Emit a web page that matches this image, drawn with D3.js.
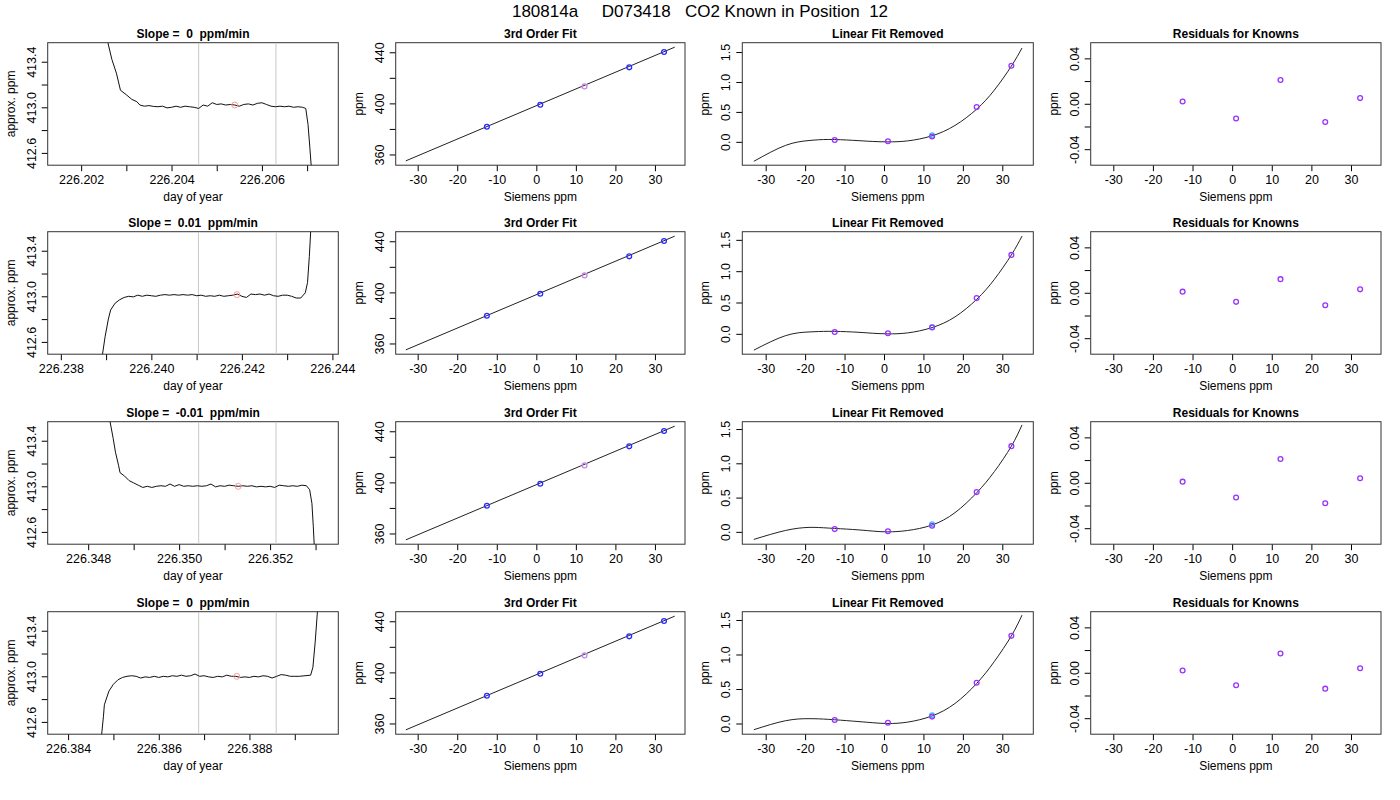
<!DOCTYPE html>
<html>
<head>
<meta charset="utf-8">
<script src="https://cdn.jsdelivr.net/npm/d3@7"></script>
<style>
  body { margin: 0; background: #fff; }
  text { font-family: "Liberation Sans", Arial, sans-serif; white-space: pre; }
</style>
</head>
<body>
<div id="chart"></div>
<script>
// ---- data ----
const mainTitle = "180814a     D073418   CO2 Known in Position  12";
const slopes = ["0", "0.01", "-0.01", "0"];

// day-of-year x ranges and tick positions for the left column
const timeDomains = [[226.20126, 226.20769], [226.23771, 226.24413], [226.34711, 226.3535], [226.38355, 226.38996]];
const timeTicks = [
  [226.202, 226.203, 226.204, 226.205, 226.206, 226.207],
  [226.238, 226.239, 226.240, 226.241, 226.242, 226.243, 226.244],
  [226.348, 226.349, 226.350, 226.351, 226.352, 226.353],
  [226.384, 226.385, 226.386, 226.387, 226.388, 226.389]
];
const grayLines = [[226.2046, 226.20631], [226.24104, 226.24276], [226.35043, 226.35213], [226.38688, 226.38859]];
const redPoint = [[226.2054, 413.02], [226.24189, 413.015], [226.3513, 413.0], [226.38772, 413.0]];

// traces [day, ppm]
const trace1 = [[226.20259,413.57],[226.20268,413.42],[226.20278,413.30],[226.20287,413.15],[226.203,413.11],[226.20312,413.07],[226.20323,413.05],[226.2033,413.02],[226.2034,413.01],[226.2035,413.015],[226.2036,413.008],[226.2037,413.005],[226.2038,413.01],[226.2039,412.995],[226.204,413.0],[226.2041,413.01],[226.2042,413.0],[226.2043,413.01],[226.2044,413.005],[226.2045,413.0],[226.2046,412.99],[226.2047,413.02],[226.2048,413.01],[226.2049,413.04],[226.205,413.025],[226.2051,413.03],[226.2052,413.02],[226.2053,413.025],[226.2054,413.02],[226.2055,413.01],[226.2056,413.025],[226.2057,413.03],[226.2058,413.02],[226.2059,413.035],[226.206,413.04],[226.2061,413.025],[226.2062,413.01],[226.2063,413.005],[226.2064,413.01],[226.2065,413.005],[226.2066,413.01],[226.2067,413.0],[226.2068,413.005],[226.2069,413.0],[226.20697,412.99],[226.20702,412.85],[226.20706,412.65],[226.20709,412.49]];
const trace2 = [[226.23892,412.49],[226.23898,412.65],[226.23905,412.8],[226.2391,412.88],[226.2392,412.94],[226.2393,412.97],[226.2394,412.99],[226.2395,413.0],[226.2396,412.995],[226.2397,413.01],[226.2398,413.0],[226.2399,413.01],[226.24,413.005],[226.2401,413.0],[226.2402,413.01],[226.2403,413.015],[226.2404,413.01],[226.2405,413.015],[226.2406,413.01],[226.2407,413.015],[226.2408,413.01],[226.2409,413.015],[226.241,413.005],[226.2411,413.01],[226.2412,413.0],[226.2413,413.005],[226.2414,413.0],[226.2415,413.01],[226.2416,413.0],[226.2417,413.005],[226.2418,413.01],[226.2419,413.02],[226.242,413.0],[226.2421,412.99],[226.2422,413.02],[226.2423,413.015],[226.2424,413.02],[226.2425,413.01],[226.2426,413.02],[226.2427,413.005],[226.2428,413.0],[226.2429,413.01],[226.243,413.01],[226.2431,413.0],[226.2432,412.985],[226.2433,412.985],[226.2434,413.03],[226.24345,413.12],[226.24349,413.35],[226.24352,413.57]];
const trace3 = [[226.34848,413.57],[226.34855,413.42],[226.3486,413.3],[226.34867,413.18],[226.3487,413.12],[226.3488,413.09],[226.3489,413.05],[226.349,413.03],[226.3491,413.01],[226.3492,412.99],[226.3493,413.0],[226.3494,412.99],[226.3495,413.0],[226.3496,413.005],[226.3497,413.0],[226.3498,413.02],[226.3499,413.0],[226.35,413.015],[226.3501,413.0],[226.3502,413.005],[226.3503,413.0],[226.3504,413.005],[226.3505,413.0],[226.3506,413.005],[226.3507,413.02],[226.3508,412.995],[226.3509,413.005],[226.351,413.0],[226.3511,413.01],[226.3512,413.005],[226.3513,413.0],[226.3514,413.005],[226.3515,413.0],[226.3516,413.005],[226.3517,412.995],[226.3518,413.0],[226.3519,412.995],[226.352,413.0],[226.3521,412.99],[226.3522,413.01],[226.3523,413.005],[226.3524,413.0],[226.3525,413.005],[226.3526,413.0],[226.3527,413.01],[226.3528,413.005],[226.35287,412.97],[226.35292,412.85],[226.35295,412.65],[226.35297,412.49]];
const trace4 = [[226.38474,412.49],[226.38478,412.65],[226.3848,412.75],[226.3849,412.87],[226.385,412.93],[226.3851,412.97],[226.3852,412.99],[226.3853,413.0],[226.3854,413.005],[226.3855,413.0],[226.3856,412.985],[226.3857,412.995],[226.3858,412.99],[226.3859,413.0],[226.386,412.99],[226.3861,413.0],[226.3862,412.995],[226.3863,413.005],[226.3864,413.0],[226.3865,413.01],[226.3866,413.0],[226.3867,413.005],[226.3868,413.02],[226.3869,413.0],[226.387,413.005],[226.3871,412.995],[226.3872,412.99],[226.3873,413.0],[226.3874,412.995],[226.3875,413.01],[226.3876,413.0],[226.3877,413.0],[226.3878,412.99],[226.3879,412.995],[226.388,412.99],[226.3881,413.0],[226.3882,412.995],[226.3883,413.005],[226.3884,413.0],[226.3885,412.985],[226.3886,413.0],[226.3887,413.015],[226.3888,413.01],[226.3889,413.0],[226.389,413.0],[226.3891,413.0],[226.38935,413.01],[226.3894,413.08],[226.38945,413.3],[226.3895,413.57]];
const traces = [trace1, trace2, trace3, trace4];

// Siemens ppm of the tanks (index 2 is the tank in position 12)
const siemens = [-12.5, 1.0, 12.2, 23.5, 32.3];
const fitPpm = [[381.7, 398.9, 413.3, 428.2, 440.2], [381.7, 398.9, 413.3, 428.2, 440.2], [381.7, 398.9, 413.3, 428.2, 440.2], [381.7, 398.9, 413.3, 428.2, 440.2]];
const fitLineEnds = [[-33, 355.0], [35, 444.0]];

const removed = [[0.03, 0.01, 0.09, 0.58, 1.27], [0.03, 0.01, 0.10, 0.57, 1.26], [0.04, 0.01, 0.09, 0.58, 1.25], [0.05, 0.01, 0.10, 0.59, 1.27]];
const removedCyan = [0.11, 0.11, 0.11, 0.12];
const curveX = [-33, -25, -19, -14, -8, -3, 1, 6, 12.2, 18, 23.5, 28, 32.3, 35];
const curveY = [
  [-0.325, -0.06, 0.022, 0.04, 0.026, 0.007, 0, 0.016, 0.101, 0.274, 0.546, 0.866, 1.265, 1.568],
  [-0.26, -0.03, 0.03, 0.04, 0.03, 0.01, 0, 0.015, 0.10, 0.27, 0.55, 0.87, 1.26, 1.56],
  [-0.11, 0.02, 0.065, 0.055, 0.035, 0.012, 0, 0.02, 0.10, 0.28, 0.57, 0.88, 1.25, 1.56],
  [-0.09, 0.04, 0.07, 0.06, 0.035, 0.012, 0, 0.02, 0.11, 0.29, 0.58, 0.90, 1.27, 1.57]
];
const removedDomains = [[-0.39, 1.656], [-0.325, 1.63], [-0.18, 1.607], [-0.155, 1.62]];

const residuals = [[0.002, -0.013, 0.021, -0.016, 0.005], [0.001, -0.008, 0.012, -0.011, 0.003], [0.001, -0.013, 0.021, -0.018, 0.004], [0.002, -0.011, 0.017, -0.014, 0.004]];

// ---- layout ----
const cols = [[47.7, 338.3], [395.7, 685], [742.3, 1033.3], [1090.7, 1381]];
const rowTop = [42.7, 231.7, 421.7, 611.7];
const boxH = 122.5;
const purple = "#9933ff", blue = "#2a2aff", lavender = "#c48ce8", cyan = "#33ccff";

const svg = d3.select("#chart").append("svg").attr("width", 1400).attr("height", 800);

svg.append("text").attr("x", 700).attr("y", 17).attr("text-anchor", "middle")
  .attr("font-size", 17).text(mainTitle);

function panel(ci, ri, title, xDom, yDom, xTicks, xLabels, yTicks, yLabels, xLab, yLab) {
  const [l, r] = cols[ci], t = rowTop[ri], b = t + boxH;
  const x = d3.scaleLinear().domain(xDom).range([l, r]);
  const y = d3.scaleLinear().domain(yDom).range([b, t]);
  const g = svg.append("g");
  const clip = "clip" + ci + ri;
  g.append("clipPath").attr("id", clip).append("rect").attr("x", l).attr("y", t).attr("width", r - l).attr("height", boxH);
  const xa = g.append("g").attr("transform", `translate(0,${b})`)
    .call(d3.axisBottom(x).tickValues(xTicks).tickSize(6).tickPadding(4).tickFormat((d, i) => xLabels[i]));
  const ya = g.append("g").attr("transform", `translate(${l},0)`)
    .call(d3.axisLeft(y).tickValues(yTicks).tickSize(6).tickPadding(4).tickFormat((d, i) => yLabels[i]));
  [xa, ya].forEach(a => { a.select(".domain").remove(); a.selectAll("text").attr("font-size", 12.5).attr("fill", "#000"); a.selectAll("line").attr("stroke", "#000"); });
  ya.selectAll(".tick text").attr("text-anchor", "middle").attr("x", 0).attr("y", 0).attr("dy", null)
    .attr("transform", "translate(-12,0) rotate(-90)");
  g.append("rect").attr("x", l).attr("y", t).attr("width", r - l).attr("height", boxH)
    .attr("fill", "none").attr("stroke", "#333").attr("stroke-width", 1);
  g.append("text").attr("x", (l + r) / 2).attr("y", t - 5).attr("text-anchor", "middle")
    .attr("font-size", 12).attr("font-weight", "bold").text(title);
  g.append("text").attr("x", (l + r) / 2).attr("y", b + 36).attr("text-anchor", "middle")
    .attr("font-size", 12).text(xLab);
  g.append("text").attr("transform", `translate(${l - 33},${(t + b) / 2}) rotate(-90)`)
    .attr("text-anchor", "middle").attr("font-size", 12).text(yLab);
  const plot = g.append("g").attr("clip-path", `url(#${clip})`);
  return { x, y, plot };
}

const sTicks = [-30, -20, -10, 0, 10, 20, 30];
const sLabels = sTicks.map(String);

for (let ri = 0; ri < 4; ri++) {
  // column 1: trace
  const tl = timeTicks[ri].map(v => (Math.round(v * 1000) % 2 === 0 ? v.toFixed(3) : ""));
  const p1 = panel(0, ri, `Slope =  ${slopes[ri]}  ppm/min`, timeDomains[ri], [412.492, 413.567],
    timeTicks[ri], tl, [412.6, 412.8, 413.0, 413.2, 413.4], ["412.6", "", "413.0", "", "413.4"], "day of year", "approx. ppm");
  grayLines[ri].forEach(v => p1.plot.append("line").attr("x1", p1.x(v)).attr("x2", p1.x(v))
    .attr("y1", p1.y.range()[0]).attr("y2", p1.y.range()[1]).attr("stroke", "#c8c8c8"));
  p1.plot.append("path").datum(traces[ri]).attr("fill", "none").attr("stroke", "#111").attr("stroke-width", 1)
    .attr("d", d3.line().x(d => p1.x(d[0])).y(d => p1.y(d[1])));
  p1.plot.append("circle").attr("cx", p1.x(redPoint[ri][0])).attr("cy", p1.y(redPoint[ri][1])).attr("r", 3)
    .attr("fill", "none").attr("stroke", "#ff9a9a");

  // column 2: 3rd order fit
  const p2 = panel(1, ri, "3rd Order Fit", [-35.56, 37.6], [351.6, 447.5], sTicks, sLabels,
    [360, 380, 400, 420, 440], ["360", "", "400", "", "440"], "Siemens ppm", "ppm");
  p2.plot.append("path").datum(fitLineEnds).attr("stroke", "#222").attr("fill", "none")
    .attr("d", d3.line().x(d => p2.x(d[0])).y(d => p2.y(d[1])));
  p2.plot.selectAll("circle.k").data(siemens).join("circle")
    .attr("cx", d => p2.x(d)).attr("cy", (d, i) => p2.y(fitPpm[ri][i])).attr("r", 2.4)
    .attr("fill", "none").attr("stroke-width", 1.3).attr("stroke", (d, i) => i === 2 ? lavender : blue);

  // column 3: linear fit removed
  const p3 = panel(2, ri, "Linear Fit Removed", [-35.93, 37.86], removedDomains[ri], sTicks, sLabels,
    [0, 0.5, 1.0, 1.5], ["0.0", "0.5", "1.0", "1.5"], "Siemens ppm", "ppm");
  p3.plot.append("path").datum(curveX.map((v, i) => [v, curveY[ri][i]])).attr("fill", "none").attr("stroke", "#222")
    .attr("d", d3.line().curve(d3.curveNatural).x(d => p3.x(d[0])).y(d => p3.y(d[1])));
  p3.plot.append("circle").attr("cx", p3.x(siemens[2])).attr("cy", p3.y(removedCyan[ri])).attr("r", 2.4)
    .attr("fill", "none").attr("stroke-width", 1.3).attr("stroke", cyan);
  p3.plot.selectAll("circle.k").data(siemens).join("circle")
    .attr("cx", d => p3.x(d)).attr("cy", (d, i) => p3.y(removed[ri][i])).attr("r", 2.4)
    .attr("fill", "none").attr("stroke-width", 1.3).attr("stroke", purple);

  // column 4: residuals
  const p4 = panel(3, ri, "Residuals for Knowns", [-35.7, 37.57], [-0.0541, 0.0538], sTicks, sLabels,
    [-0.04, -0.02, 0, 0.02, 0.04], ["-0.04", "", "0.00", "", "0.04"], "Siemens ppm", "ppm");
  p4.plot.selectAll("circle.k").data(siemens).join("circle")
    .attr("cx", d => p4.x(d)).attr("cy", (d, i) => p4.y(residuals[ri][i])).attr("r", 2.4)
    .attr("fill", "none").attr("stroke-width", 1.3).attr("stroke", purple);
}
</script>
</body>
</html>
